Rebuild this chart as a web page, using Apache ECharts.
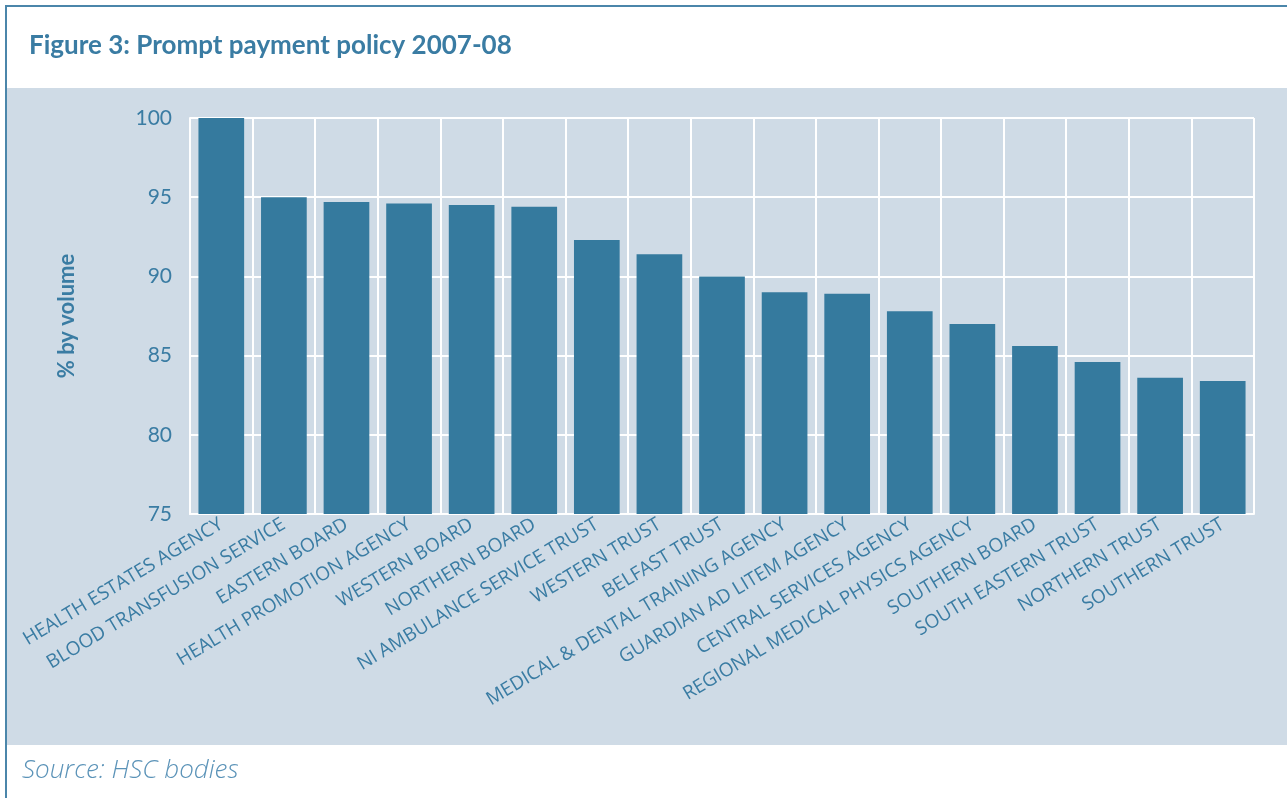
<!DOCTYPE html>
<html><head><meta charset="utf-8">
<script src="https://cdn.jsdelivr.net/npm/echarts@6/dist/echarts.min.js"></script>
<style>html,body{margin:0;padding:0;background:#fff}#c{width:1287px;height:798px}</style>
</head><body><div id="c"></div>
<script>
const categories = ["HEALTH ESTATES AGENCY","BLOOD TRANSFUSION SERVICE","EASTERN BOARD","HEALTH PROMOTION AGENCY","WESTERN BOARD","NORTHERN BOARD","NI AMBULANCE SERVICE TRUST","WESTERN TRUST","BELFAST TRUST","MEDICAL & DENTAL TRAINING AGENCY","GUARDIAN AD LITEM AGENCY","CENTRAL SERVICES AGENCY","REGIONAL MEDICAL PHYSICS AGENCY","SOUTHERN BOARD","SOUTH EASTERN TRUST","NORTHERN TRUST","SOUTHERN TRUST"];
const values = [100, 95.0, 94.7, 94.6, 94.5, 94.4, 92.3, 91.4, 90.0, 89.0, 88.9, 87.8, 87.0, 85.6, 84.6, 83.6, 83.4];
const yTicks = [75, 80, 85, 90, 95, 100];

const TEXT = '#3a7ca3';
const FONT = 'Lato, "Open Sans", sans-serif';
const LFONT = '"Open Sans", Lato, sans-serif';
const chart = echarts.init(document.getElementById('c'), null, {renderer:'canvas'});
chart.setOption({
  animation:false,
  backgroundColor:'#ffffff',
  graphic:[
    {type:'rect', z:-10, shape:{x:5,y:88,width:1282,height:657}, style:{fill:'#cfdbe6'}, silent:true},
    {type:'line', z:-5, shape:{x1:5,y1:6,x2:1287,y2:6}, style:{stroke:'#4b86aa',lineWidth:2}},
    {type:'line', z:-5, shape:{x1:6,y1:5,x2:6,y2:798}, style:{stroke:'#4b86aa',lineWidth:2}},
    {type:'text', left:22, top:758, style:{text:'Source: HSC bodies', fill:'#5b93b8', font:'italic 300 26px '+LFONT}}
  ],
  title:{
    text:'Figure 3: Prompt payment policy 2007-08',
    left:24, top:28,
    textStyle:{color:TEXT, fontFamily:FONT, fontWeight:'bold', fontSize:26}
  },
  grid:{left:190, right:33, top:118, bottom:284, containLabel:false},
  xAxis:{
    type:'category', data:categories,
    axisLine:{show:true, lineStyle:{color:'#ffffff', width:2}},
    axisTick:{show:false},
    splitLine:{show:true, lineStyle:{color:'#ffffff', width:2}},
    axisLabel:{rotate:31, interval:0, margin:9, color:TEXT, fontFamily:LFONT, fontSize:19}
  },
  yAxis:{
    type:'value', min:75, max:100, interval:5,
    name:'% by volume', nameLocation:'middle', nameGap:112, nameRotate:90,
    nameTextStyle:{color:TEXT, fontFamily:FONT, fontWeight:'bold', fontSize:22},
    axisLine:{show:true, lineStyle:{color:'#ffffff', width:2}},
    axisTick:{show:false},
    splitLine:{show:true, lineStyle:{color:'#ffffff', width:2}},
    axisLabel:{margin:18, color:TEXT, fontFamily:FONT, fontSize:21,
      formatter:v=>yTicks.includes(v)?String(v):''}
  },
  series:[{type:'bar', data:values, barCategoryGap:'27%', itemStyle:{color:'#357a9e'}, z:3}]
});
</script></body></html>
